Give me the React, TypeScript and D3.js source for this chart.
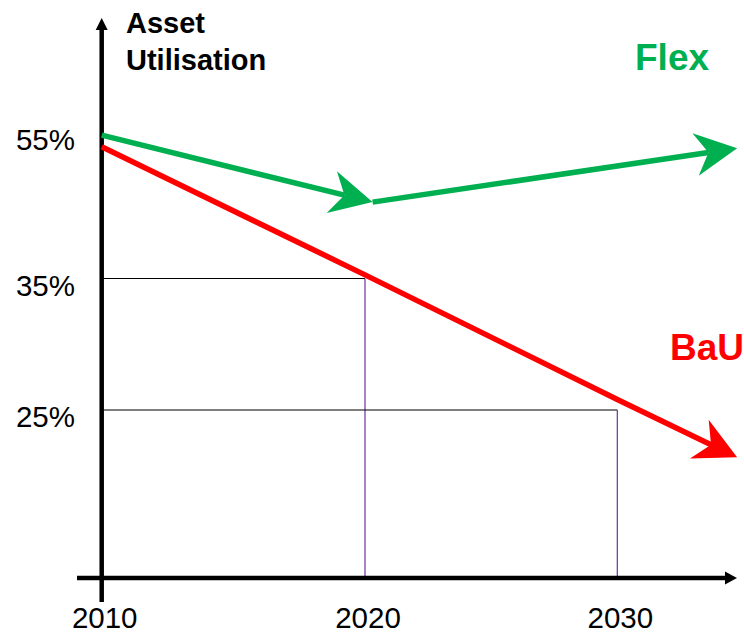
import React from "react";
import * as d3 from "d3";

// Axis tick values
const yearTicks = [2010, 2020, 2030];
const utilTicks = [55, 35, 25];

// Business-as-usual trajectory (asset utilisation, %)
const bauYears = [2010, 2020, 2030, 2034.75];
const bauValues = [53.1, 35.5, 25.8, 21.4];

// Flexible trajectory (asset utilisation, %)
const flexYears = [2010, 2020.3, 2034.75];
const flexValues = [54.7, 45.5, 52.9];

// Guide lines dropped from the BaU path to the axes
const guideYears = [2020, 2030];
const guideValues = [35, 25];

const W = 744;
const H = 634;
const FONT = "Arial, 'Liberation Sans', Helvetica, sans-serif";
const GREEN = "#00B050";
const RED = "#FF0000";

// Schematic (non-uniform) scales
const x = d3.scaleLinear().domain([2010, 2020, 2030]).range([101.7, 365, 617.3]);
const y = d3.scaleLinear().domain([25, 35, 55]).range([410, 278.5, 133]);

const axisY = 578;
const axisX = x(2010);

type P = [number, number];

// Notched ("stealth") arrow head pointing from `from` towards `tip`
function arrowHead(from: P, tip: P, len = 42, half = 21.5, notch = 29) {
  const dx = tip[0] - from[0];
  const dy = tip[1] - from[1];
  const d = Math.hypot(dx, dy);
  const ux = dx / d, uy = dy / d;
  const nx = -uy, ny = ux;
  const bx = tip[0] - len * ux, by = tip[1] - len * uy;
  const pts: P[] = [
    tip,
    [bx + half * nx, by + half * ny],
    [tip[0] - notch * ux, tip[1] - notch * uy],
    [bx - half * nx, by - half * ny],
  ];
  return { path: "M" + pts.map((p) => p.join(",")).join("L") + "Z", notch: pts[2] };
}

function ArrowPath({ years, values, color, headEach }: { years: number[]; values: number[]; color: string; headEach: boolean }) {
  const pts: P[] = years.map((yr, i) => [x(yr), y(values[i])]);
  const line = d3.line();
  const pieces: React.ReactNode[] = [];
  if (headEach) {
    for (let i = 1; i < pts.length; i++) {
      const h = arrowHead(pts[i - 1], pts[i]);
      pieces.push(
        <g key={i}>
          <path d={line([pts[i - 1], h.notch]) || ""} stroke={color} strokeWidth={5.5} fill="none" />
          <path d={h.path} fill={color} />
        </g>
      );
    }
  } else {
    const n = pts.length;
    const h = arrowHead(pts[n - 2], pts[n - 1]);
    const shaft = pts.slice(0, n - 1).concat([h.notch]);
    pieces.push(
      <g key="all">
        <path d={line(shaft) || ""} stroke={color} strokeWidth={5.5} fill="none" strokeLinejoin="round" />
        <path d={h.path} fill={color} />
      </g>
    );
  }
  return <g>{pieces}</g>;
}

export default function App() {
  const xEnd = 737;
  const yTop = 18;
  return (
    <svg
      width={W}
      height={H}
      viewBox={`0 0 ${W} ${H}`}
      style={{ position: "fixed", left: 0, top: 0, background: "#fff" }}
      fontFamily={FONT}
    >
      <rect width={W} height={H} fill="#fff" />

      {/* guide lines */}
      {guideYears.map((yr, i) => (
        <g key={yr}>
          <line x1={axisX} x2={x(yr)} y1={y(guideValues[i])} y2={y(guideValues[i])} stroke="#000" strokeWidth={1.2} />
          <line x1={x(yr)} x2={x(yr)} y1={y(guideValues[i])} y2={axisY} stroke="#7030A0" strokeWidth={1.2} />
        </g>
      ))}

      {/* axes */}
      <line x1={77} x2={xEnd - 10} y1={axisY} y2={axisY} stroke="#000" strokeWidth={4.5} />
      <path d={`M${xEnd},${axisY}L${xEnd - 12},${axisY - 6.5}L${xEnd - 12},${axisY + 6.5}Z`} fill="#000" />
      <line x1={axisX} x2={axisX} y1={602} y2={yTop + 10} stroke="#000" strokeWidth={4.5} />
      <path d={`M${axisX},${yTop}L${axisX - 6},${yTop + 12}L${axisX + 6},${yTop + 12}Z`} fill="#000" />

      {/* tick labels */}
      {utilTicks.map((v) => (
        <text key={v} x={75} y={y(v) + 17} textAnchor="end" fontSize={29.5} fill="#000">
          {v}%
        </text>
      ))}
      {yearTicks.map((yr) => (
        <text key={yr} x={x(yr) + 3} y={627.5} textAnchor="middle" fontSize={29.5} fill="#000">
          {yr}
        </text>
      ))}

      {/* axis title */}
      <text x={126} y={33} fontSize={29} fontWeight="bold" fill="#000">Asset</text>
      <text x={126} y={70} fontSize={29} fontWeight="bold" fill="#000">Utilisation</text>

      {/* trajectories */}
      <ArrowPath years={bauYears} values={bauValues} color={RED} headEach={false} />
      <ArrowPath years={flexYears} values={flexValues} color={GREEN} headEach={true} />

      {/* series labels */}
      <text x={635} y={70} fontSize={37} fontWeight="bold" fill={GREEN}>Flex</text>
      <text x={670} y={360} fontSize={37} fontWeight="bold" fill={RED}>BaU</text>
    </svg>
  );
}
